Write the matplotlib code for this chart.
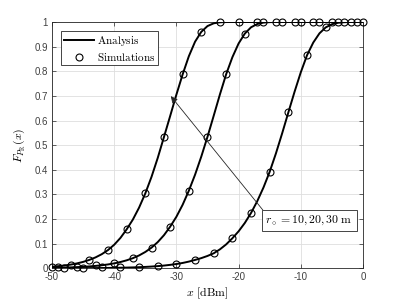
import matplotlib
matplotlib.use("Agg")
import matplotlib.pyplot as plt
import numpy as np

plt.rcParams['mathtext.fontset'] = 'cm'

# Analysis curves (read every 1 dBm)
x_analysis = list(range(-50, 1))
analysis_r10 = [0.0065, 0.0086, 0.0114, 0.0150, 0.0198, 0.0260, 0.0341, 0.0443, 0.0573, 0.0740,
                0.0957, 0.1233, 0.158, 0.1979, 0.2464, 0.304, 0.3713, 0.4482, 0.533, 0.6185,
                0.7052, 0.787, 0.861, 0.920, 0.960, 0.9835, 0.9947, 0.9988, 0.9998, 1.0,
                1.0, 1.0, 1.0, 1.0, 1.0, 1.0, 1.0, 1.0, 1.0, 1.0,
                1.0, 1.0, 1.0, 1.0, 1.0, 1.0, 1.0, 1.0, 1.0, 1.0, 1.0]
analysis_r20 = [0.0018, 0.0023, 0.0029, 0.0037, 0.0047, 0.0060, 0.0076, 0.0097, 0.0124, 0.0157,
                0.0200, 0.0255, 0.0324, 0.0411, 0.0522, 0.0663, 0.0839, 0.1064, 0.1344, 0.169,
                0.2093, 0.2578, 0.315, 0.380, 0.4535, 0.534, 0.6196, 0.7063, 0.788, 0.857,
                0.9128, 0.953, 0.9785, 0.9919, 0.9976, 0.9995, 1.0, 1.0, 1.0, 1.0,
                1.0, 1.0, 1.0, 1.0, 1.0, 1.0, 1.0, 1.0, 1.0, 1.0, 1.0]
analysis_r30 = [0.0002, 0.00024, 0.0003, 0.00038, 0.00048, 0.0006, 0.00075, 0.00094, 0.00117, 0.00147,
                0.00184, 0.00231, 0.00288, 0.00362, 0.00452, 0.00563, 0.00708, 0.0089, 0.0111, 0.0140,
                0.0174, 0.0217, 0.0272, 0.0340, 0.0413, 0.0502, 0.0610, 0.0770, 0.0971, 0.122,
                0.1502, 0.1841, 0.2246, 0.2726, 0.3281, 0.392, 0.4664, 0.5478, 0.633, 0.717,
                0.7958, 0.865, 0.9164, 0.9539, 0.978, 0.991, 0.997, 0.9992, 0.9999, 1.0, 1.0]

# Simulation points (every 3 dBm, staggered)
x_sim_r10 = [-50, -47, -44, -41, -38, -35, -32, -29, -26, -23, -20, -17, -14, -11, -8, -5, -2]
sim_r10 = [0.0065, 0.015, 0.034, 0.074, 0.158, 0.304, 0.533, 0.787, 0.960, 1.0, 1.0, 1.0, 1.0, 1.0, 1.0, 1.0, 1.0]
x_sim_r20 = [-49, -46, -43, -40, -37, -34, -31, -28, -25, -22, -19, -16, -13, -10, -7, -4, -1]
sim_r20 = [0.004, 0.005, 0.012, 0.020, 0.041, 0.084, 0.169, 0.315, 0.534, 0.788, 0.953, 1.0, 1.0, 1.0, 1.0, 1.0, 1.0]
x_sim_r30 = [-48, -45, -42, -39, -36, -33, -30, -27, -24, -21, -18, -15, -12, -9, -6, -3, 0]
sim_r30 = [0.003, 0.003, 0.004, 0.005, 0.0065, 0.011, 0.016, 0.034, 0.061, 0.122, 0.224, 0.392, 0.633, 0.865, 0.978, 1.0, 1.0]

xticks = [-50, -40, -30, -20, -10, 0]
xtick_labels = ['-50', '-40', '-30', '-20', '-10', '0']
yticks = [0, 0.1, 0.2, 0.3, 0.4, 0.5, 0.6, 0.7, 0.8, 0.9, 1]
ytick_labels = ['0', '0.1', '0.2', '0.3', '0.4', '0.5', '0.6', '0.7', '0.8', '0.9', '1']

fig = plt.figure(figsize=(4.02, 3.01), dpi=100)
ax = fig.add_axes([52/402, 1-268.3/301, 311/402, 246.3/301])

lw = 1.4
ms = 5
for ya in (analysis_r10, analysis_r20, analysis_r30):
    ax.plot(x_analysis, ya, color='k', lw=lw, zorder=3)
for xs, ys in ((x_sim_r10, sim_r10), (x_sim_r20, sim_r20), (x_sim_r30, sim_r30)):
    ax.plot(xs, ys, 'o', mfc='none', mec='k', ms=ms, mew=0.8, zorder=4, clip_on=False)

# legend handles
h1, = ax.plot([], [], color='k', lw=lw)
h2, = ax.plot([], [], 'o', mfc='none', mec='k', ms=ms, mew=0.8)
leg = ax.legend([h1, h2], [r'$\mathrm{Analysis}$', r'$\mathrm{Simulations}$'],
                loc='upper left', bbox_to_anchor=(0.029, 0.963), borderaxespad=0,
                fancybox=False, framealpha=1, edgecolor='#262626', fontsize=8,
                handlelength=2.7, handletextpad=0.3, borderpad=0.25, labelspacing=0.25)
leg.get_frame().set_linewidth(0.6)

ax.set_xlim(-50, 0)
ax.set_ylim(0, 1)
ax.set_xticks(xticks)
ax.set_xticklabels(xtick_labels)
ax.set_yticks(yticks)
ax.set_yticklabels(ytick_labels)
ax.grid(True, color='#dedede', lw=0.6)
ax.set_axisbelow(True)
ax.tick_params(direction='in', top=True, right=True, length=3, width=0.5,
               colors='#262626', labelsize=7, pad=3)
for lab in ax.get_xticklabels() + ax.get_yticklabels():
    lab.set_fontfamily('Liberation Sans')
    lab.set_color('#404040')
for s in ax.spines.values():
    s.set_color('#262626')
    s.set_linewidth(0.6)

ax.set_xlabel(r'$x\ [\mathrm{dBm}]$', fontsize=8.5, labelpad=2)
ax.set_ylabel(r'$F_{P_{\mathrm{R}}}(x)$', fontsize=8.5, labelpad=5)

# annotation arrow and text box
ax.annotate('', xy=(-30.9, 0.699), xytext=(-16.1, 0.2365),
            arrowprops=dict(arrowstyle='-|>', color='#262626', lw=0.6, mutation_scale=10,
                            shrinkA=0, shrinkB=0), zorder=5)
ax.text(-8.65, 0.194, r'$r_\circ = 10, 20, 30\ \mathrm{m}$', ha='center', va='center',
        fontsize=8.5, zorder=6,
        bbox=dict(boxstyle='square,pad=0.3', fc='white', ec='#262626', lw=0.6))

fig.savefig('out.png', dpi=100)
